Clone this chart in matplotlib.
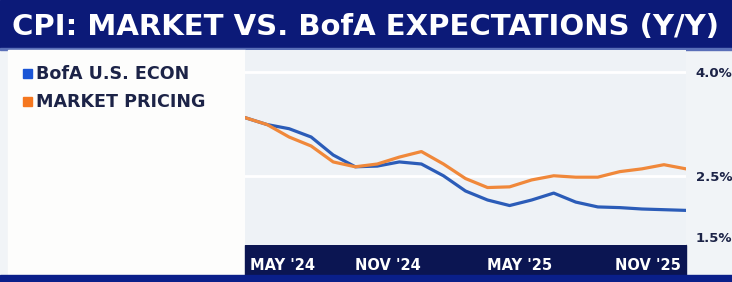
import matplotlib
matplotlib.use("Agg")
import matplotlib.pyplot as plt
from matplotlib.patches import Rectangle

# monthly readings, Apr '24 .. Dec '25
months = list(range(21))
bofa = [3.34, 3.24, 3.18, 3.06, 2.80, 2.63, 2.64, 2.70, 2.67, 2.50, 2.28,
        2.15, 2.07, 2.15, 2.25, 2.12, 2.05, 2.04, 2.02, 2.01, 2.00]
market = [3.34, 3.24, 3.06, 2.93, 2.70, 2.63, 2.67, 2.77, 2.85, 2.67, 2.46,
          2.33, 2.34, 2.44, 2.50, 2.48, 2.48, 2.56, 2.60, 2.66, 2.60]
xtick_pos = [1.68, 6.49, 12.43, 18.28]
xtick_labels = ["MAY '24", "NOV '24", "MAY '25", "NOV '25"]
ytick_pos = [1.5, 2.5, 4.0]
ytick_labels = ["1.5%", "2.5%", "4.0%"]

NAVY = "#0b1552"
TEXT = "#1c2347"
BLUE = "#2b5cb8"
ORANGE = "#f0883a"

W, H = 732, 282
fig = plt.figure(figsize=(W / 100, H / 100), dpi=100)
fig.patch.set_facecolor("#f1f4f7")

def px_rect(x0, y0, x1, y1, color, z=-1):
    # rectangle given in image pixels (top-left origin)
    fig.patches.append(Rectangle((x0 / W, 1 - y1 / H), (x1 - x0) / W, (y1 - y0) / H,
                                 transform=fig.transFigure, color=color, zorder=z))

px_rect(0, 0, W, 48, "#0c1a78")          # title banner
px_rect(0, 48, W, 50, "#5a6fb8")
px_rect(8, 50, 245, 274, "#fdfdfc")      # legend panel
px_rect(245, 245, 686, 275, NAVY)        # x-axis band
px_rect(0, 275, W, H, "#0a1f8a")         # bottom strip

fig.text(366 / W, 1 - 27 / H, "CPI: MARKET VS. BofA EXPECTATIONS (Y/Y)",
         color="white", fontsize=21, fontweight="heavy", family="DejaVu Sans",
         ha="center", va="center")

# legend
for y, c, lab in [(74, "#1a55d6", "BofA U.S. ECON"), (102, "#f5771f", "MARKET PRICING")]:
    px_rect(23, y - 5, 32, y + 4, c, z=1)
    fig.text(36 / W, 1 - y / H, lab, color=TEXT, fontsize=12.6, fontweight="bold",
             ha="left", va="center")

ax = fig.add_axes([245 / W, 1 - 245 / H, (686 - 245) / W, (245 - 50) / H])
ax.set_facecolor("#eef2f6")
ax.plot(months, bofa, color=BLUE, lw=2.3, solid_joinstyle="round", zorder=3)
ax.plot(months, market, color=ORANGE, lw=2.3, solid_joinstyle="round", zorder=3)
for yv in (2.5, 4.0):
    ax.axhline(yv, color="white", lw=2, zorder=1)

ax.set_xlim(0, 20)
ax.set_ylim(1.5, 4.317)
for s in ax.spines.values():
    s.set_visible(False)

ax.set_xticks(xtick_pos)
ax.set_xticklabels(xtick_labels, color="white", fontsize=10.5, fontweight="bold")
ax.tick_params(axis="x", length=0, pad=9)
ax.yaxis.tick_right()
ax.set_yticks(ytick_pos)
ax.set_yticklabels(ytick_labels, color=TEXT, fontsize=9.5, fontweight="bold")
ax.tick_params(axis="y", length=0, pad=7)
ax.get_yticklabels()[0].set_va("bottom")

fig.savefig("out.png", dpi=100, facecolor=fig.get_facecolor())
